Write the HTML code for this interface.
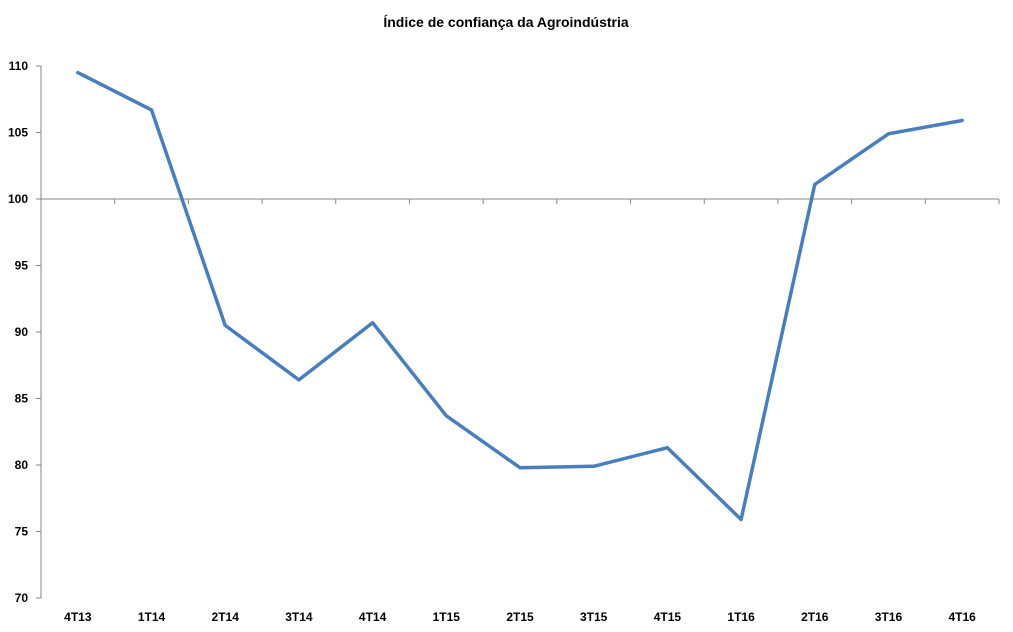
<!DOCTYPE html>
<html><head><meta charset="utf-8">
<style>
html,body{margin:0;padding:0;background:#fff;}
svg{display:block;font-family:"Liberation Sans",sans-serif;}
</style></head>
<body>
<svg id="chart" width="1013" height="632" viewBox="0 0 1013 632">
<text x="506" y="27" text-anchor="middle" font-size="14" font-weight="bold" fill="#000">Índice de confiança da Agroindústria</text>
<g id="axes"></g>
<g id="series"></g>
</svg>
<script>
const categories = ["4T13","1T14","2T14","3T14","4T14","1T15","2T15","3T15","4T15","1T16","2T16","3T16","4T16"];
const values = [109.5,106.7,90.5,86.4,90.7,83.7,79.8,79.9,81.3,75.9,101.1,104.9,105.9];
const yTicks = [70,75,80,85,90,95,100,105,110];
const crossValue = 100;

const NS="http://www.w3.org/2000/svg";
const plotLeft=41,plotRight=999,plotTop=66,plotBottom=598,yMin=70,yMax=110;
const step=(plotRight-plotLeft)/categories.length;
function xPos(i){return plotLeft+step*(i+0.5);}
function yPos(v){return plotBottom-(v-yMin)/(yMax-yMin)*(plotBottom-plotTop);}
function mk(tag,attrs,parent){const e=document.createElementNS(NS,tag);for(const k in attrs)e.setAttribute(k,attrs[k]);parent.appendChild(e);return e;}
const axesG=document.getElementById('axes');
const seriesG=document.getElementById('series');

const yAxis=mk('line',{x1:plotLeft,y1:plotTop,x2:plotLeft,y2:plotBottom,stroke:'#868686','stroke-width':1},axesG);


yTicks.forEach(t=>{
  const y=yPos(t);
  const tk=mk('line',{x1:plotLeft-5,y1:y,x2:plotLeft,y2:y,stroke:'#868686'},axesG);
  
  
  const lb=mk('text',{x:plotLeft-13,y:y+4,'text-anchor':'end','font-size':12,'font-weight':'bold',fill:'#000'},axesG);
  lb.textContent=t;
  
  
});
const cy=yPos(crossValue);
const xAxis=mk('line',{x1:plotLeft,y1:cy,x2:plotRight,y2:cy,stroke:'#868686'},axesG);


for(let k=1;k<=categories.length;k++){
  const x=plotLeft+step*k;
  const tk=mk('line',{x1:x,y1:cy,x2:x,y2:cy+5,stroke:'#868686'},axesG);
  
  
}
categories.forEach((c,i)=>{
  const lb=mk('text',{x:xPos(i),y:621,'text-anchor':'middle','font-size':12,'font-weight':'bold',fill:'#000'},axesG);
  lb.textContent=c;
  
  
});
const pts=values.map((v,i)=>xPos(i).toFixed(1)+','+yPos(v).toFixed(1)).join(' ');
const line=mk('polyline',{points:pts,fill:'none',stroke:'#4a7ebb','stroke-width':3.5,'stroke-linejoin':'round','stroke-linecap':'round'},seriesG);


</script>
</body></html>
